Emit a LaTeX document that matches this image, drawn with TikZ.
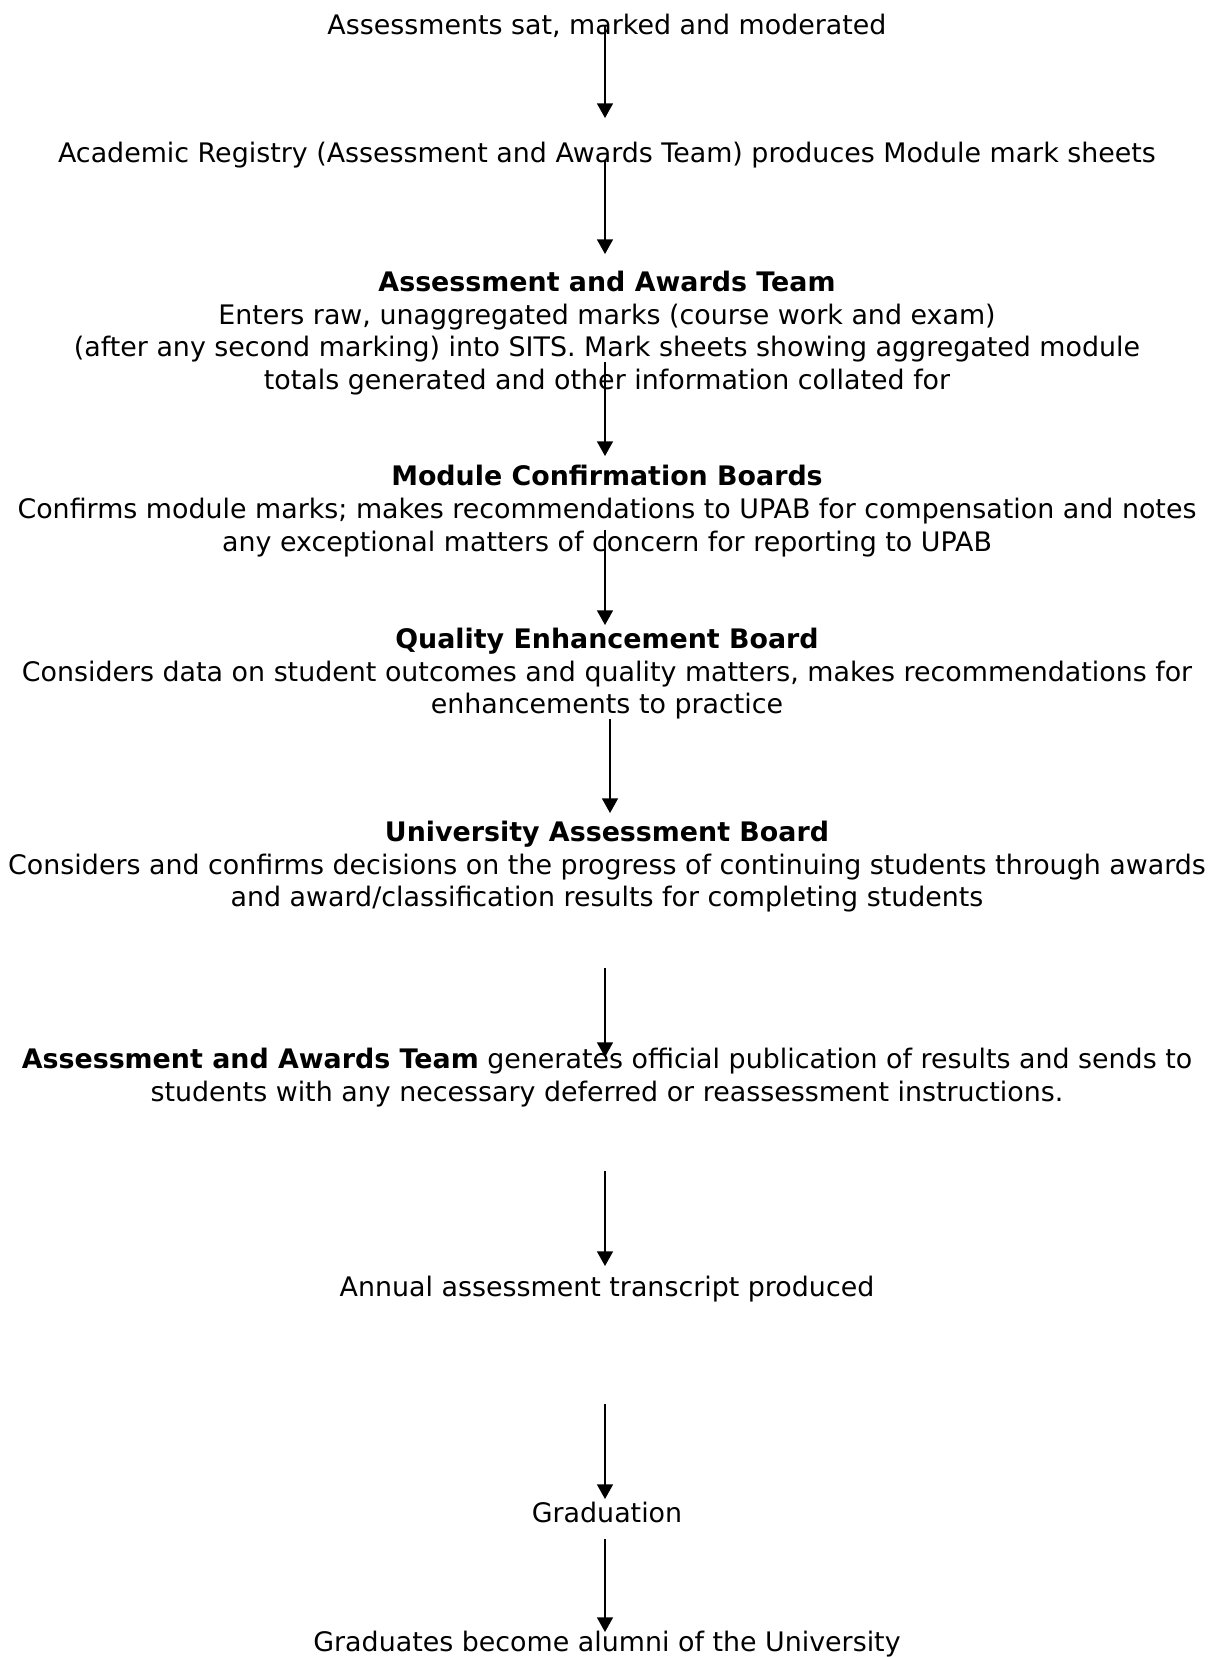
\documentclass[tikz,border=0pt]{standalone}
\usepackage{fontspec}
\setmainfont{DejaVu Sans}
\usetikzlibrary{arrows.meta}
\begin{document}
\begin{tikzpicture}[x=0.75pt,y=-0.75pt,
  txt/.style={inner sep=0pt,outer sep=0pt,align=center,font=\fontsize{20.15}{24.6}\selectfont},
  arr/.style={line width=1.1pt,-{Triangle[width=12pt,length=11pt]}}]
\useasboundingbox (0,0) rectangle (1215,1657);
\node[txt] (n1) at (607,27.5) {\strut Assessments sat, marked and moderated};
\node[txt] (n2) at (607,155.5) {\strut Academic Registry (Assessment and Awards Team) produces Module mark sheets};
\node[txt] (n3) at (607,334) {\strut\textbf{Assessment and Awards Team}\\
Enters raw, unaggregated marks (course work and exam)\\
(after any second marking) into SITS. Mark sheets showing aggregated module\\
totals generated and other information collated for\strut};
\node[txt] (n4) at (607,512) {\strut\textbf{Module Confirmation Boards}\\
Confirms module marks; makes recommendations to UPAB for compensation and notes\\
any exceptional matters of concern for reporting to UPAB\strut};
\node[txt] (n5) at (607,674.5) {\strut\textbf{Quality Enhancement Board}\\
Considers data on student outcomes and quality matters, makes recommendations for\\
enhancements to practice\strut};
\node[txt] (n6) at (607,867.5) {\strut\textbf{University Assessment Board}\\
Considers and confirms decisions on the progress of continuing students through awards\\
and award/classification results for completing students\strut};
\node[txt] (n7) at (607,1078.5) {\strut\textbf{Assessment and Awards Team} generates official publication of results and sends to\\
students with any necessary deferred or reassessment instructions.\strut};
\node[txt] (n8) at (607,1289.5) {\strut Annual assessment transcript produced};
\node[txt] (n9) at (607,1515.5) {\strut Graduation};
\node[txt] (n10) at (607,1644.5) {\strut Graduates become alumni of the University};
\coordinate (a1s) at (605,25);   \coordinate (a1e) at (605,118);
\coordinate (a2s) at (605,160);  \coordinate (a2e) at (605,254);
\coordinate (a3s) at (605,362);  \coordinate (a3e) at (605,456);
\coordinate (a4s) at (605,530);  \coordinate (a4e) at (605,625);
\coordinate (a5s) at (610,719);  \coordinate (a5e) at (610,813);
\coordinate (a6s) at (605,968);  \coordinate (a6e) at (605,1057);
\coordinate (a7s) at (605,1171); \coordinate (a7e) at (605,1266);
\coordinate (a8s) at (605,1404); \coordinate (a8e) at (605,1499);
\coordinate (a9s) at (605,1539); \coordinate (a9e) at (605,1632);
\foreach \i in {1,...,9} {\draw[arr] (a\i s) -- (a\i e);}
\end{tikzpicture}
\end{document}
